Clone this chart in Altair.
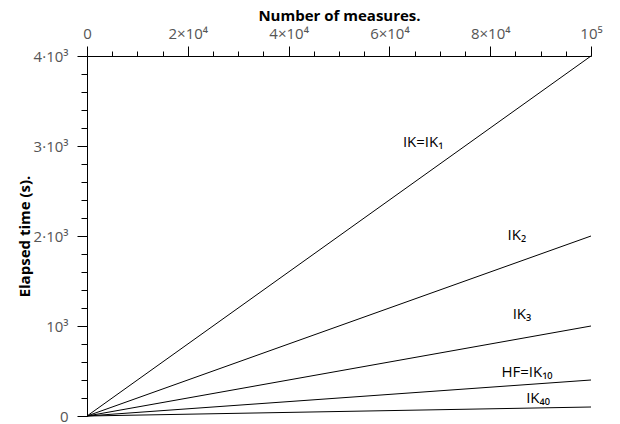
import altair as alt
import pandas as pd

# ---- data ----
series = ["IK=IK₁", "IK₂", "IK₃", "HF=IK₁₀", "IK₄₀"]
measures = [0, 100000]
time_ik1 = [0, 4000]
time_ik2 = [0, 2000]
time_ik3 = [0, 1000]
time_hf = [0, 400]
time_ik40 = [0, 100]

label_x = [66700, 85300, 86300, 87300, 89500]
label_y = [2986, 1961, 1081, 435, 145]

x_ticks = [0, 5000, 10000, 15000, 20000, 25000, 30000, 35000, 40000, 45000,
           50000, 55000, 60000, 65000, 70000, 75000, 80000, 85000, 90000,
           95000, 100000]
x_major = [0, 20000, 40000, 60000, 80000, 100000]
x_labels = ["0", "2×10⁴", "4×10⁴", "6×10⁴", "8×10⁴", "10⁵"]

y_ticks = [0, 200, 400, 600, 800, 1000, 1200, 1400, 1600, 1800, 2000, 2200,
           2400, 2600, 2800, 3000, 3200, 3400, 3600, 3800, 4000]
y_major = [0, 1000, 2000, 3000, 4000]
y_labels = ["0", "10³", "2·10³", "3·10³", "4·10³"]

# ---- tables ----
all_times = [time_ik1, time_ik2, time_ik3, time_hf, time_ik40]
rows = []
for name, ts in zip(series, all_times):
    for m, t in zip(measures, ts):
        rows.append({"series": name, "measures": m, "time": t})
df = pd.DataFrame(rows)
lab_df = pd.DataFrame({"series": series, "measures": label_x, "time": label_y})


def label_expr(values, labels):
    expr = "''"
    for v, l in reversed(list(zip(values, labels))):
        expr = f"datum.value == {v} ? '{l}' : ({expr})"
    return expr


def major_test(values):
    return "indexof([" + ",".join(str(v) for v in values) + "], datum.value) >= 0"


FONT = "Open Sans"
FS = 15

x_axis = alt.Axis(
    orient="top", values=x_ticks, labelExpr=label_expr(x_major, x_labels),
    tickSize={"condition": {"test": major_test(x_major), "value": 10}, "value": 5},
    labelFlush=False, labelOverlap=False, grid=False,
    domainColor="black", tickColor="black", domainWidth=1, tickWidth=1,
    labelColor="#555555", labelFont=FONT, labelFontSize=FS, labelPadding=8,
    labelBaseline="alphabetic",
    title="Number of measures.", titleFont=FONT, titleFontSize=FS,
    titleFontWeight="bold", titleColor="black", titleX=252, titleY=-36,
    titleBaseline="alphabetic", titleAlign="center",
)

y_axis = alt.Axis(
    orient="left", values=y_ticks, labelExpr=label_expr(y_major, y_labels),
    tickSize={"condition": {"test": major_test(y_major), "value": 10}, "value": 6},
    labelFlush=False, labelOverlap=False, grid=False,
    domainColor="black", tickColor="black", domainWidth=1, tickWidth=1,
    labelColor="#555555", labelFont=FONT, labelFontSize=FS, labelPadding=9,
    title="Elapsed time (s).", titleFont=FONT, titleFontSize=FS,
    titleFontWeight="bold", titleColor="black", titleX=-58, titleY=180,
    titleBaseline="alphabetic", titleAlign="center", titleAngle=270,
)

x_enc = alt.X("measures:Q", scale=alt.Scale(domain=[0, 100000], nice=False, zero=True), axis=x_axis)
y_enc = alt.Y("time:Q", scale=alt.Scale(domain=[0, 4000], nice=False, zero=True), axis=y_axis)

lines = alt.Chart(df).mark_line(color="black", strokeWidth=1).encode(
    x=x_enc, y=y_enc, detail="series:N",
)

labels = alt.Chart(lab_df).mark_text(
    font=FONT, fontSize=FS, color="black", baseline="alphabetic", align="center"
).encode(
    x=x_enc, y=y_enc, text="series:N",
)

chart = alt.layer(lines, labels).properties(
    width=504, height=360, autosize="none",
    padding={"left": 79, "top": 48, "right": 20, "bottom": 8},
).configure_view(stroke=None)

chart.save("out.html", embed_options={"renderer": "svg", "actions": False})
